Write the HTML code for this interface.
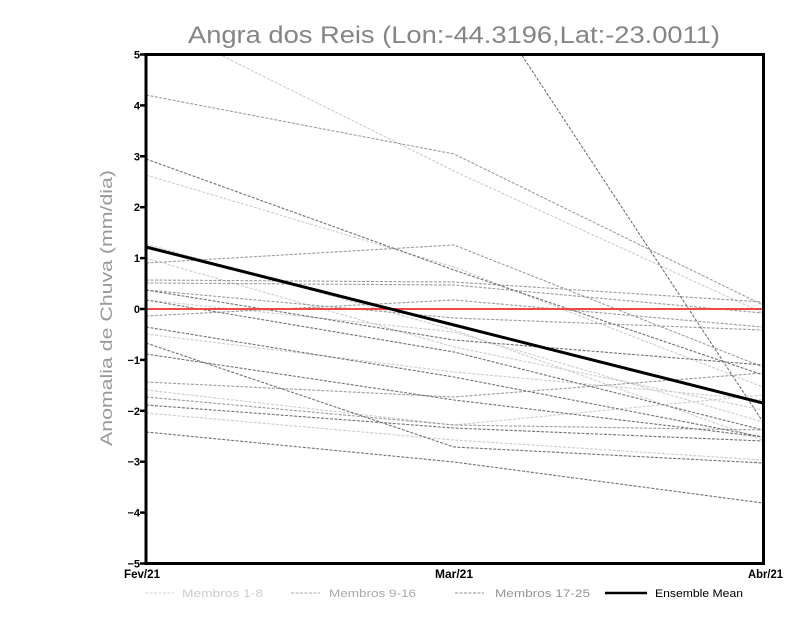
<!DOCTYPE html>
<html>
<head>
<meta charset="utf-8">
<style>
html,body{margin:0;padding:0;background:#fff;}
svg{display:block;}
text{font-family:"Liberation Sans",sans-serif;}
</style>
</head>
<body>
<svg width="800" height="618" viewBox="0 0 800 618" xmlns="http://www.w3.org/2000/svg">
<rect width="800" height="618" fill="#fff"/>
<!-- title -->
<text x="188" y="43" font-size="24" fill="#858585" textLength="532" lengthAdjust="spacingAndGlyphs">Angra dos Reis (Lon:-44.3196,Lat:-23.0011)</text>

<defs><clipPath id="c"><rect x="146" y="55" width="617" height="508"/></clipPath></defs>
<g clip-path="url(#c)" fill="none" stroke-width="1.1" stroke-dasharray="3,1.5">
<!-- light members 1-8 -->
<g stroke="#cdcdcd">
<polyline points="146,18 454,171 763,313"/>
<polyline points="146,175 454,267 763,387"/>
<polyline points="146,258 454,347 763,410"/>
<polyline points="146,244 454,330 763,440"/>
<polyline points="146,413 454,440 763,460"/>
<polyline points="146,334 454,372 763,400"/>
<polyline points="146,390 454,425 763,395"/>
<polyline points="146,300 454,332 763,422"/>
</g>
<!-- medium members 9-16 -->
<g stroke="#9c9c9c">
<polyline points="146,95 454,154 763,305"/>
<polyline points="146,263 454,245 763,367"/>
<polyline points="146,280 454,282 763,302"/>
<polyline points="146,283 454,285 763,313"/>
<polyline points="146,316 454,300 763,327"/>
<polyline points="146,382 454,397 763,373"/>
<polyline points="146,397 454,425 763,430"/>
<polyline points="146,290 454,318 763,330"/>
</g>
<!-- dark members 17-25 -->
<g stroke="#727272">
<polyline points="146,-60 454,-48 763,422"/>
<polyline points="146,159 454,270 763,375"/>
<polyline points="146,300 454,352 763,430"/>
<polyline points="146,327 454,377 763,437"/>
<polyline points="146,343 454,447 763,463"/>
<polyline points="146,354 454,400 763,437"/>
<polyline points="146,432 454,462 763,503"/>
<polyline points="146,290 454,340 763,365"/>
<polyline points="146,405 454,428 763,441"/>
</g>
</g>
<!-- zero line -->
<line x1="146" y1="309" x2="763" y2="309" stroke="#ee4848" stroke-width="2"/>
<!-- ensemble mean -->
<polyline points="146,247 454,325 763,403" fill="none" stroke="#000" stroke-width="3"/>
<!-- frame -->
<rect x="146" y="54.5" width="617.5" height="509" fill="none" stroke="#000" stroke-width="3"/>

<!-- y ticks -->
<g stroke="#000" stroke-width="2.5">
<line x1="140" y1="54.5" x2="146" y2="54.5"/>
<line x1="140" y1="105.4" x2="146" y2="105.4"/>
<line x1="140" y1="156.3" x2="146" y2="156.3"/>
<line x1="140" y1="207.2" x2="146" y2="207.2"/>
<line x1="140" y1="258.1" x2="146" y2="258.1"/>
<line x1="140" y1="309" x2="146" y2="309"/>
<line x1="140" y1="359.9" x2="146" y2="359.9"/>
<line x1="140" y1="410.8" x2="146" y2="410.8"/>
<line x1="140" y1="461.7" x2="146" y2="461.7"/>
<line x1="140" y1="512.6" x2="146" y2="512.6"/>
<line x1="140" y1="563.5" x2="146" y2="563.5"/>
</g>
<g font-size="11" font-weight="bold" fill="#000" text-anchor="end">
<text x="140" y="58.5">5</text>
<text x="140" y="109.4">4</text>
<text x="140" y="160.3">3</text>
<text x="140" y="211.2">2</text>
<text x="140" y="262.1">1</text>
<text x="140" y="313">0</text>
<text x="140" y="363.9">−1</text>
<text x="140" y="414.8">−2</text>
<text x="140" y="465.7">−3</text>
<text x="140" y="516.6">−4</text>
<text x="140" y="567.5">−5</text>
</g>
<!-- x labels -->
<g font-size="12" font-weight="bold" fill="#000">
<text x="124" y="578" textLength="36" lengthAdjust="spacingAndGlyphs">Fev/21</text>
<text x="435" y="578" textLength="38" lengthAdjust="spacingAndGlyphs">Mar/21</text>
<text x="748" y="578" textLength="35" lengthAdjust="spacingAndGlyphs">Abr/21</text>
</g>
<!-- y axis title -->
<text transform="translate(112,446) rotate(-90)" font-size="17" fill="#999999" textLength="276" lengthAdjust="spacingAndGlyphs">Anomalia de Chuva (mm/dia)</text>

<!-- legend -->
<g font-size="11">
<line x1="145" y1="593" x2="174" y2="593" stroke="#d2d2d2" stroke-width="1" stroke-dasharray="3,1.5"/>
<text x="182" y="597" fill="#cdcdcd" textLength="81" lengthAdjust="spacingAndGlyphs">Membros 1-8</text>
<line x1="291" y1="593" x2="320" y2="593" stroke="#a8a8a8" stroke-width="1" stroke-dasharray="3,1.5"/>
<text x="329" y="597" fill="#a8a8a8" textLength="87" lengthAdjust="spacingAndGlyphs">Membros 9-16</text>
<line x1="455" y1="593" x2="484" y2="593" stroke="#909090" stroke-width="1" stroke-dasharray="3,1.5"/>
<text x="495" y="597" fill="#959595" textLength="95" lengthAdjust="spacingAndGlyphs">Membros 17-25</text>
<line x1="605" y1="593" x2="647" y2="593" stroke="#000" stroke-width="2.5"/>
<text x="655" y="597" fill="#000" textLength="88" lengthAdjust="spacingAndGlyphs">Ensemble Mean</text>
</g>
</svg>
</body>
</html>
